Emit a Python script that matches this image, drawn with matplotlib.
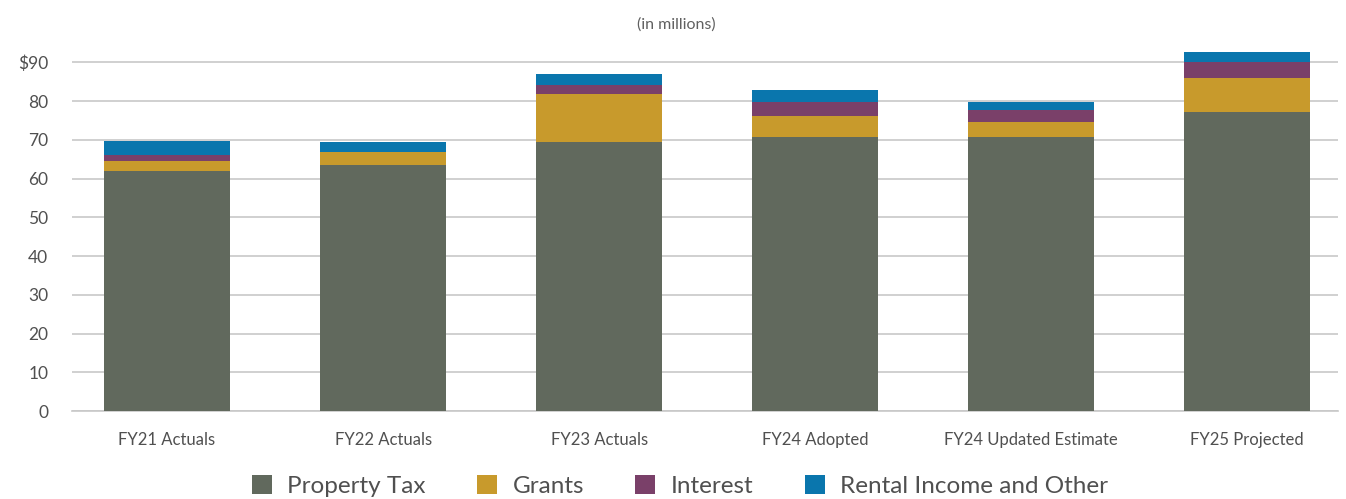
import matplotlib
matplotlib.use("Agg")
import matplotlib.pyplot as plt
import numpy as np

plt.rcParams['font.family'] = ['Lato', 'DejaVu Sans']

categories = ["FY21 Actuals", "FY22 Actuals", "FY23 Actuals", "FY24 Adopted",
              "FY24 Updated Estimate", "FY25 Projected"]
property_tax = [62.0, 63.5, 69.4, 70.7, 70.7, 77.2]
grants = [2.5, 3.4, 12.4, 5.4, 3.9, 8.8]
interest = [1.6, 0.0, 2.4, 3.7, 3.1, 4.1]
rental_other = [3.7, 2.5, 2.8, 3.1, 2.1, 2.6]
y_ticks = [0, 10, 20, 30, 40, 50, 60, 70, 80, 90]
y_tick_labels = ["0", "10", "20", "30", "40", "50", "60", "70", "80", "$90"]

series = [
    ("Property Tax", property_tax, "#61695d"),
    ("Grants", grants, "#c89a2c"),
    ("Interest", interest, "#7a4069"),
    ("Rental Income and Other", rental_other, "#0a76ad"),
]

TEXT = "#505050"
W, H = 1346, 499
fig = plt.figure(figsize=(W / 100, H / 100), dpi=100)
ax_left, ax_right = 72 / W, 1338 / W
ax_bottom = 1 - 411 / H
ymax = 94
ax_top = 1 - (411 - ymax * 3.874) / H
ax = fig.add_axes([ax_left, ax_bottom, ax_right - ax_left, ax_top - ax_bottom])

x = np.arange(len(categories))
bottom = np.zeros(len(categories))
handles = []
for name, vals, color in series:
    vals = np.array(vals)
    b = ax.bar(x, vals, width=0.583, bottom=bottom, color=color, label=name,
               zorder=3, linewidth=0)
    handles.append(b)
    bottom += vals

ax.set_xlim(-0.440, 5.42)
ax.set_ylim(0, ymax)
ax.set_yticks(y_ticks)
ax.set_yticklabels(y_tick_labels)
ax.set_xticks(x)
ax.set_xticklabels(categories)
ax.yaxis.grid(True, color="#c8c8c8", linewidth=1.2, zorder=0)
ax.set_axisbelow(True)
for s in ["top", "right", "left"]:
    ax.spines[s].set_visible(False)
ax.spines["bottom"].set_color("#c8c8c8")
ax.spines["bottom"].set_linewidth(1.2)
ax.tick_params(axis="both", length=0, colors=TEXT)
ax.tick_params(axis="x", pad=15, labelsize=12)
ax.tick_params(axis="y", pad=17, labelsize=12.5)

fig.text(676 / W, 1 - 25 / H, "(in millions)", ha="center", va="center",
         fontsize=11.5, color="#606060")

leg = fig.legend(handles=handles, loc="center", bbox_to_anchor=(680 / W, 1 - 486 / H),
                 ncol=4, frameon=False, fontsize=17.5, handlelength=0.82,
                 handleheight=0.82, handletextpad=0.65, columnspacing=2.1,
                 borderpad=0, borderaxespad=0)
for t in leg.get_texts():
    t.set_color(TEXT)

fig.savefig("out.png", dpi=100)
